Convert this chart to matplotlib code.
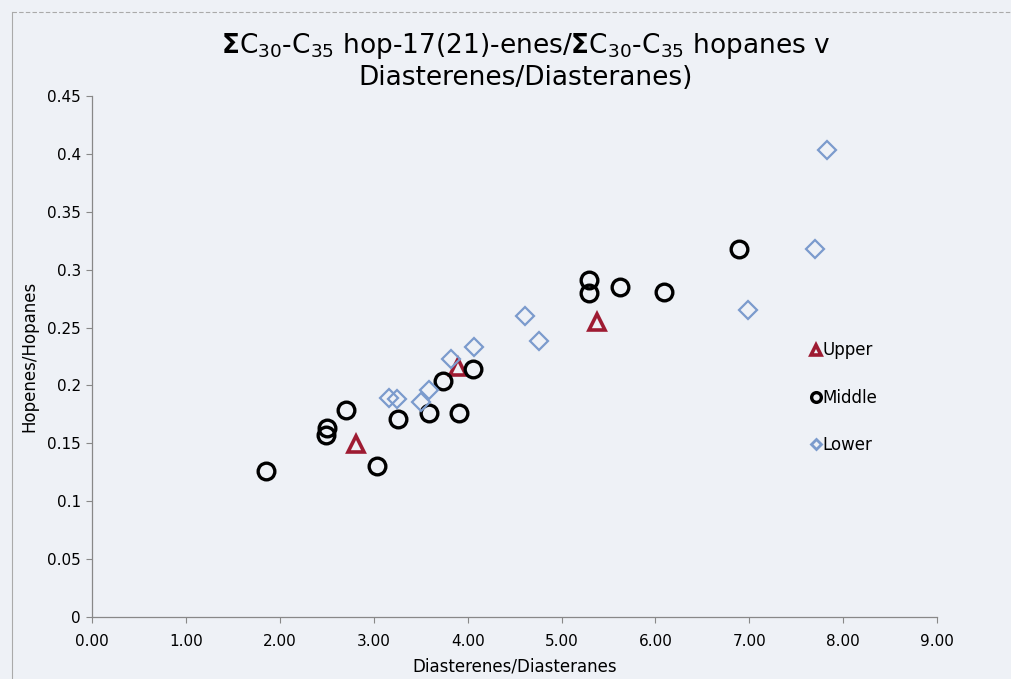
import numpy as np
import matplotlib.pyplot as plt
from matplotlib.lines import Line2D

plt.rcParams['font.family'] = ['DejaVu Sans']
plt.rcParams['mathtext.fontset'] = 'dejavusans'

# Data
upper_x = [2.81, 3.90, 5.38]
upper_y = [0.149, 0.216, 0.255]

middle_x = [1.85, 2.50, 2.49, 2.70, 3.04, 3.26, 3.59, 3.91, 3.74, 4.06,
            5.29, 5.29, 5.62, 6.09, 6.89]
middle_y = [0.1265, 0.163, 0.1576, 0.179, 0.130, 0.171, 0.176, 0.176, 0.204, 0.214,
            0.291, 0.280, 0.285, 0.281, 0.318]

lower_x = [3.16, 3.25, 3.50, 3.59, 3.82, 4.07, 4.61, 4.76, 6.99, 7.70, 7.83]
lower_y = [0.189, 0.188, 0.186, 0.196, 0.2225, 0.233, 0.260, 0.238, 0.265, 0.318, 0.403]

xticks = np.arange(0, 10, 1)
yticks = [0, 0.05, 0.1, 0.15, 0.2, 0.25, 0.3, 0.35, 0.4, 0.45]
ytick_labels = ['0', '0.05', '0.1', '0.15', '0.2', '0.25', '0.3', '0.35', '0.4', '0.45']

bg = '#eef1f6'
red = '#9e1b32'
blue = '#7b9bcd'

fig = plt.figure(figsize=(10.11, 6.79), dpi=100, facecolor=bg)
ax = fig.add_axes([0.091, 0.0913, 0.836, 0.7673], facecolor=bg)

ax.plot(middle_x, middle_y, 'o', ms=12, mfc='none', mec='black', mew=2.4,
        ls='none', label='Middle', zorder=3)
ax.plot(lower_x, lower_y, 'D', ms=9, mfc='none', mec=blue, mew=1.6,
        ls='none', label='Lower', zorder=4)
ax.plot(upper_x, upper_y, '^', ms=11, mfc='none', mec=red, mew=2.6,
        ls='none', label='Upper', zorder=2)

ax.set_xlim(0, 9)
ax.set_ylim(0, 0.45)
ax.set_xticks(xticks)
ax.set_xticklabels(['%.2f' % v for v in xticks])
ax.set_yticks(yticks)
ax.set_yticklabels(ytick_labels)
ax.tick_params(direction='out', length=4, color='#888888', labelsize=11, pad=4)
ax.tick_params(axis='x', pad=8)

for s in ['top', 'right']:
    ax.spines[s].set_visible(False)
for s in ['left', 'bottom']:
    ax.spines[s].set_color('#888888')
    ax.spines[s].set_linewidth(0.9)

ax.set_xlabel('Diasterenes/Diasteranes', fontsize=12, labelpad=6)
ax.set_ylabel('Hopenes/Hopanes', fontsize=12, labelpad=6)

handles = [
    Line2D([], [], marker='^', ls='none', ms=7, mfc='none', mec=red, mew=2.6),
    Line2D([], [], marker='o', ls='none', ms=7, mfc='none', mec='black', mew=2.4),
    Line2D([], [], marker='D', ls='none', ms=5.5, mfc='none', mec=blue, mew=2.0),
]
ax.legend(handles, ['Upper', 'Middle', 'Lower'], loc='upper left',
          bbox_to_anchor=(0.843, 0.545), frameon=False, fontsize=12,
          handlelength=0.4, handletextpad=0.2, labelspacing=1.75,
          borderpad=0)

title = (r'$\mathbf{\Sigma}$C$_{30}$-C$_{35}$ hop-17(21)-enes/'
         r'$\mathbf{\Sigma}$C$_{30}$-C$_{35}$ hopanes v')
fig.text(0.52, 0.955, title, ha='center', va='top', fontsize=19)
fig.text(0.52, 0.905, 'Diasterenes/Diasteranes)', ha='center', va='top', fontsize=19)

# frame of the scanned chart
fig.add_artist(Line2D([0.012, 0.012], [0.0, 0.982], transform=fig.transFigure,
                      color='#aaaaaa', lw=0.8))
fig.add_artist(Line2D([0.012, 1.0], [0.982, 0.982], transform=fig.transFigure,
                      color='#aaaaaa', lw=0.8, ls=(0, (4, 2))))

fig.savefig('out.png', dpi=100, facecolor=bg)
